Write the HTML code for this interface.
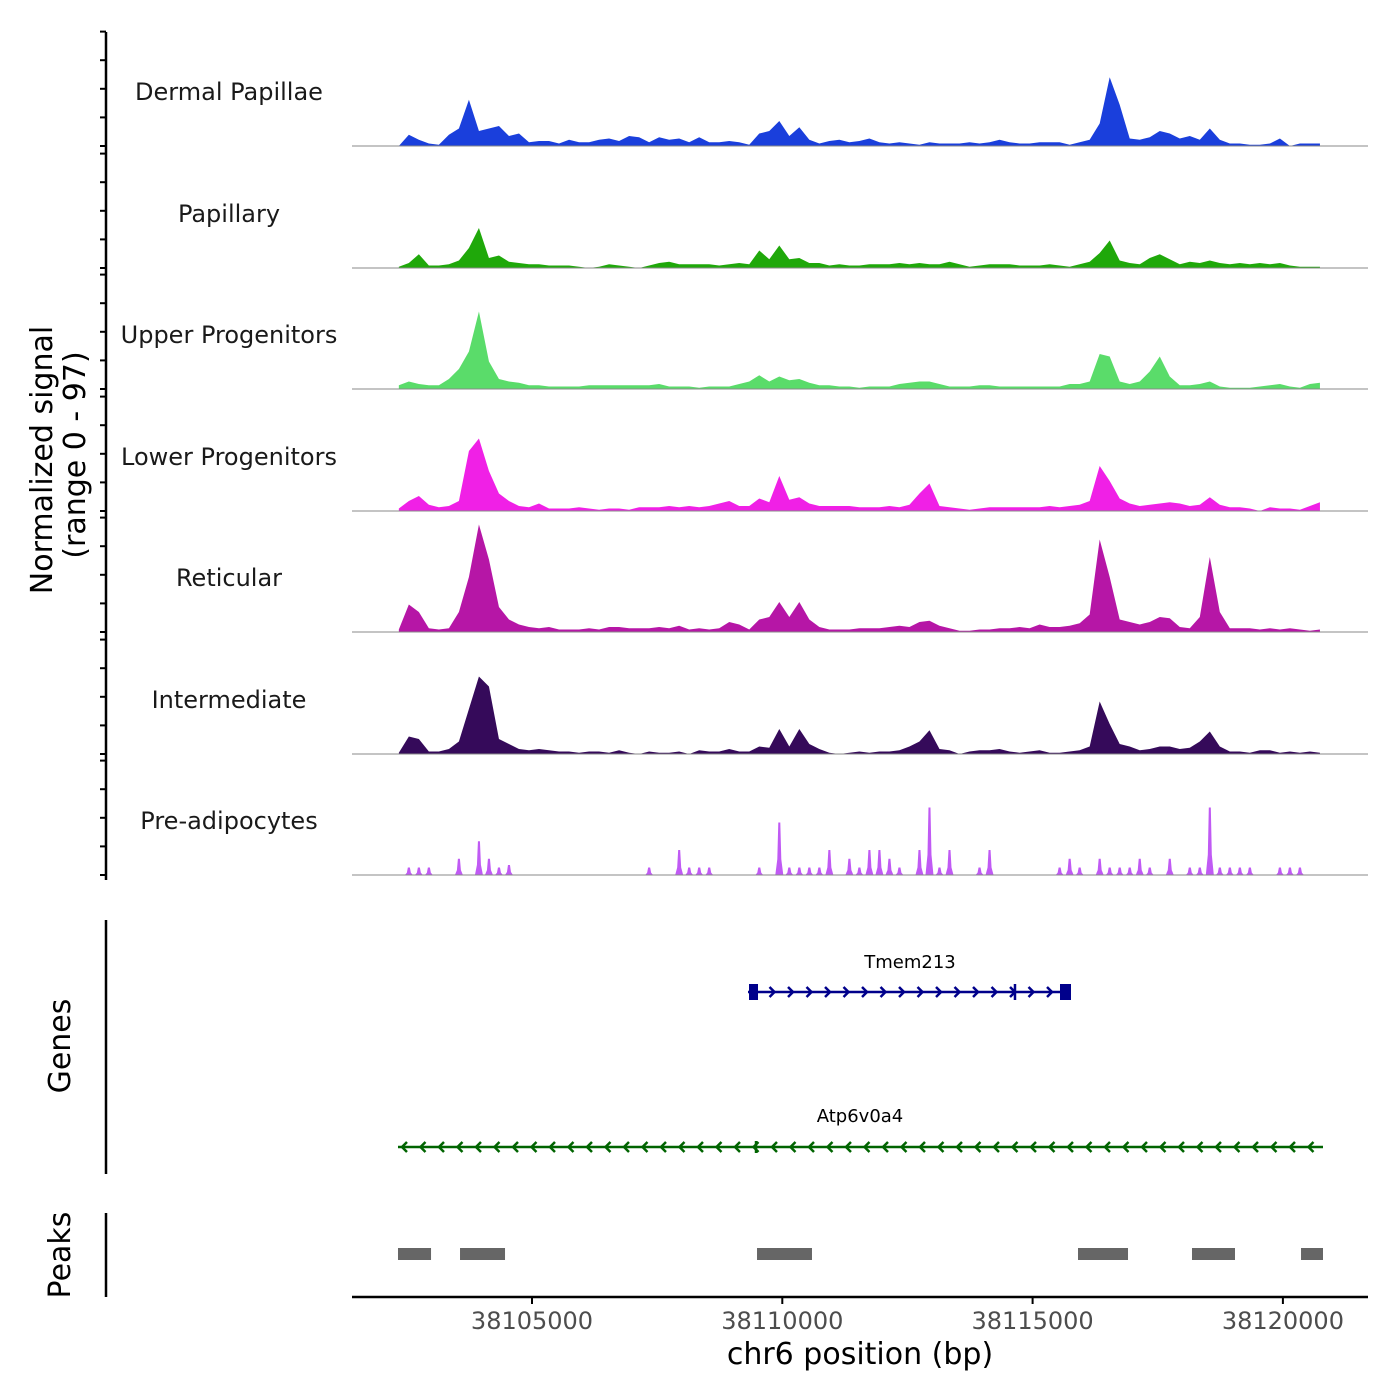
<!DOCTYPE html>
<html><head><meta charset="utf-8"><style>
html,body{margin:0;padding:0;background:#fff;}
svg{display:block;font-family:"DejaVu Sans","Liberation Sans",sans-serif;}
</style></head><body>
<svg id="chart" width="1400" height="1400" viewBox="0 0 1400 1400">
<g id="tracks"></g>
<g id="genes"></g>
<g id="peaks"></g>
<g id="axes"></g>
</svg>
<script>
const binStart = 38102340;
const binSize = 200;
const trackNames = ["Dermal Papillae","Papillary","Upper Progenitors","Lower Progenitors","Reticular","Intermediate","Pre-adipocytes"];
const trackColors = ["#1a3fdc","#1fa80a","#5adc6a","#f020e6","#b616a6","#350a5a","#c05af4"];
const dermal = [0,9,5,2,1,9,14,37,12,14,16,8,10,3,4,4,2,5,3,3,5,6,4,8,7,3,7,5,6,3,7,3,3,4,3,1,10,12,20,8,15,5,2,4,5,3,4,6,3,2,3,2,1,3,2,2,2,3,2,3,5,3,2,2,3,3,3,1,3,5,18,55,33,6,5,7,12,10,6,8,5,14,5,2,2,1,1,2,6,0,2,2,2];
const papillary = [1,4,11,2,2,3,6,16,32,8,10,5,4,3,3,2,2,2,1,0,1,3,2,1,0,2,4,5,3,3,3,3,2,3,4,3,14,7,18,7,8,4,4,2,3,2,2,3,3,3,4,3,4,3,3,5,3,1,2,3,3,3,2,2,2,3,2,1,3,5,12,22,6,4,3,8,11,7,3,5,4,6,4,3,4,3,4,3,4,2,1,1,1];
const upperProg = [3,6,4,3,3,8,16,30,62,22,8,6,5,3,3,2,2,2,2,3,3,3,3,3,3,3,4,2,2,2,1,2,2,2,4,6,11,6,10,7,8,5,3,3,2,2,1,2,2,2,4,5,6,6,4,2,2,2,3,3,2,2,2,2,2,2,2,4,4,6,28,26,6,4,6,14,26,10,3,3,4,6,2,1,1,1,2,3,4,2,1,4,5];
const lowerProg = [2,8,12,5,3,4,8,48,58,32,14,8,4,3,6,2,2,2,3,2,1,2,2,1,3,3,3,4,3,4,3,4,6,8,4,4,10,7,28,9,11,6,4,4,4,4,3,3,3,4,3,5,14,22,4,3,2,1,2,3,3,3,3,3,3,4,3,4,5,8,36,24,10,6,4,5,6,7,6,4,5,11,5,3,3,2,0,3,2,2,1,4,7];
const reticular = [2,22,16,3,2,3,16,44,86,58,20,10,6,4,3,4,2,2,2,3,2,4,4,3,3,3,4,3,5,2,3,2,3,8,6,2,10,12,24,12,24,10,4,2,2,2,3,3,3,4,5,4,8,9,5,3,1,1,2,2,3,3,4,3,6,4,4,5,7,14,74,44,10,8,6,8,12,11,4,3,12,60,16,3,3,3,2,3,2,3,2,1,2];
const intermediate = [1,14,12,2,2,4,10,36,62,54,12,8,4,3,4,3,2,2,1,2,2,1,3,1,0,2,1,1,2,0,3,2,2,4,2,2,6,5,20,6,20,8,4,1,0,1,2,1,2,2,3,6,10,19,4,3,0,2,3,3,4,2,1,2,3,1,1,2,3,6,42,24,8,6,3,4,6,6,4,5,10,18,6,2,2,1,3,3,1,2,1,2,1];
const preAdipo = [0,6,6,6,0,0,13,0,27,13,6,8,0,0,0,0,0,0,0,0,0,0,0,0,0,6,0,0,20,6,6,6,0,0,0,0,6,0,42,6,6,6,6,20,0,13,6,20,20,13,6,0,20,54,6,20,0,0,6,20,0,0,0,0,0,0,6,13,6,0,13,6,6,6,13,6,0,13,0,6,6,54,6,6,6,6,0,0,6,6,6,0,0];
const trackValues = [dermal,papillary,upperProg,lowerProg,reticular,intermediate,preAdipo];
const xTicks = [38105000,38110000,38115000,38120000];
const geneNames = ["Tmem213","Atp6v0a4"];
const geneStarts = [38109315,38102323];
const geneEnds = [38115747,38120801];
const geneStrands = [1,-1];
const geneMarks = [38114648,38109475];
const peakStarts = [38102323,38103562,38109495,38115907,38118184,38120362];
const peakEnds = [38102983,38104461,38110593,38116906,38119043,38120801];

const NS="http://www.w3.org/2000/svg";
function mk(tag,attrs,parent){const e=document.createElementNS(NS,tag);for(const k in attrs)e.setAttribute(k,attrs[k]);parent.appendChild(e);return e;}
const X0=352,X1=1368;
function xs(bp){return 532+(bp-38105000)*0.05006;}
const baselines=[146,268,389,511,632,754,875];
const PXU=1.25;
function ys(v,b){return b-v*PXU;}

const gT=document.getElementById('tracks');
trackValues.forEach((vals,t)=>{
  const b=baselines[t];
  const g=mk('g',{},gT);
  
  
  const lab=mk('text',{x:229,y:b-46,'text-anchor':'middle','font-size':24,fill:'#1a1a1a'},g);
  lab.textContent=trackNames[t];
  
  
  if(t===6){
    vals.forEach((v,i)=>{
      if(v<=0)return;
      const cx=xs(binStart+i*binSize);
      const r=mk('path',{d:`M${cx-4},${b} L${cx-2},${ys(v*0.3,b)} L${cx-1},${ys(v,b)} L${cx+1},${ys(v,b)} L${cx+2},${ys(v*0.3,b)} L${cx+4},${b} Z`,fill:trackColors[t]},g);
      
      
    });
  } else {
    let d=`M${xs(binStart)},${b}`;
    vals.forEach((v,i)=>{const cx=xs(binStart+i*binSize);d+=` L${cx},${ys(v,b)}`;});
    d+=` L${xs(binStart+(vals.length-1)*binSize)},${b} Z`;
    const p=mk('path',{d:d,fill:trackColors[t]},g);
    
    
  }
  const bl=mk('line',{x1:X0,x2:X1,y1:b,y2:b,stroke:'#888','stroke-width':1},g);
  
  
});

const gA=document.getElementById('axes');
let ax=mk('line',{x1:106,x2:106,y1:32,y2:880,stroke:'#000','stroke-width':2.5},gA);


baselines.forEach(b=>{for(let k=0;k<5;k++){const ty=b-k*28.6;
  const tk=mk('line',{x1:100,x2:106,y1:ty,y2:ty,stroke:'#000','stroke-width':2},gA);
  
  }});
let yt=mk('text',{x:0,y:0,'font-size':30,'text-anchor':'middle',fill:'#000',transform:'translate(52,460) rotate(-90)'},gA);
yt.textContent='Normalized signal';


let yt2=mk('text',{x:0,y:0,'font-size':30,'text-anchor':'middle',fill:'#000',transform:'translate(85,455) rotate(-90)'},gA);
yt2.textContent='(range 0 - 97)';


let ga=mk('line',{x1:106,x2:106,y1:920,y2:1174,stroke:'#000','stroke-width':2.5},gA);


let gl=mk('text',{x:0,y:0,'font-size':30,'text-anchor':'middle',fill:'#000',transform:'translate(70,1046) rotate(-90)'},gA);
gl.textContent='Genes';


let pa=mk('line',{x1:106,x2:106,y1:1213,y2:1297,stroke:'#000','stroke-width':2.5},gA);


let pl=mk('text',{x:0,y:0,'font-size':30,'text-anchor':'middle',fill:'#000',transform:'translate(70,1255) rotate(-90)'},gA);
pl.textContent='Peaks';


let xa=mk('line',{x1:X0,x2:X1,y1:1297,y2:1297,stroke:'#000','stroke-width':2.5},gA);


xTicks.forEach(v=>{
  const tk=mk('line',{x1:xs(v),x2:xs(v),y1:1297,y2:1304,stroke:'#000','stroke-width':2},gA);
  
  
  const tl=mk('text',{x:xs(v),y:1329,'text-anchor':'middle','font-size':24,fill:'#4d4d4d'},gA);
  tl.textContent=String(v);
  
  
});
let xt=mk('text',{x:860,y:1364,'text-anchor':'middle','font-size':30,fill:'#000'},gA);
xt.textContent='chr6 position (bp)';



const gG=document.getElementById('genes');
const geneY=[992,1147],geneCol=['#00008b','#006400'],labY=[968,1122];
geneNames.forEach((n,i)=>{
  const g=mk('g',{},gG);
  
  
  const x1=xs(geneStarts[i]),x2=xs(geneEnds[i]),y=geneY[i],c=geneCol[i];
  mk('line',{x1:x1,x2:x2,y1:y,y2:y,stroke:c,'stroke-width':2.5},g);
  const step=18.5;
  for(let x=x1+6;x<x2-4;x+=step){
    const s=geneStrands[i];
    mk('polyline',{points:`${x-3*s},${y-5} ${x+2*s},${y} ${x-3*s},${y+5}`,fill:'none',stroke:c,'stroke-width':2.5},g);
  }
  const mx=xs(geneMarks[i]);
  if(i===0){
    mk('rect',{x:x1+1,y:y-8,width:9,height:16,fill:c},g);
    mk('rect',{x:x2-10,y:y-8,width:11,height:16,fill:c},g);
    mk('line',{x1:mx,x2:mx,y1:y-8,y2:y+8,stroke:c,'stroke-width':2.5},g);
  } else {
    mk('line',{x1:mx,x2:mx,y1:y-6,y2:y+6,stroke:c,'stroke-width':2.5},g);
  }
  const t=mk('text',{x:(i===0?910:860),y:labY[i],'text-anchor':'middle','font-size':18,fill:'#000'},g);
  t.textContent=n;
  
  
});

const gP=document.getElementById('peaks');
peakStarts.forEach((s,i)=>{
  const r=mk('rect',{x:xs(s),y:1248,width:xs(peakEnds[i])-xs(s),height:12,fill:'#666'},gP);
  
  
});
</script>
</body></html>
